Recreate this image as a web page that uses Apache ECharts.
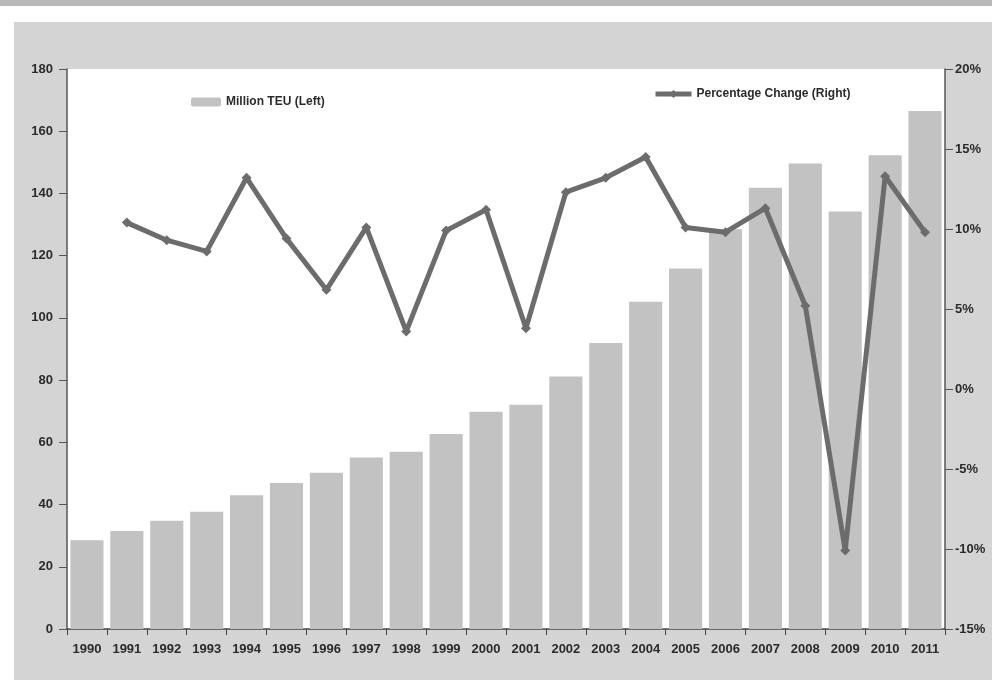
<!DOCTYPE html>
<html>
<head>
<meta charset="utf-8">
<script src="https://cdn.jsdelivr.net/npm/echarts@6/dist/echarts.min.js"></script>
<style>
  html, body { margin: 0; padding: 0; background: #ffffff; }
  #chart { width: 992px; height: 685px; }
</style>
</head>
<body>
<div id="chart"></div>
<script>
// 年份
var years = ['1990', '1991', '1992', '1993', '1994', '1995', '1996', '1997', '1998', '1999', '2000',
  '2001', '2002', '2003', '2004', '2005', '2006', '2007', '2008', '2009', '2010', '2011']
// 百万TEU（左轴）
var teu = [28.5, 31.5, 34.8, 37.7, 43.0, 46.9, 50.2, 55.1, 57.0, 62.7, 69.8,
  72.1, 81.2, 91.9, 105.2, 115.9, 128.5, 141.8, 149.6, 134.2, 152.3, 166.5]
// 百分比变化（右轴），1990 无数据
var pctChange = [null, 10.4, 9.3, 8.6, 13.2, 9.4, 6.2, 10.1, 3.6, 9.9, 11.2,
  3.8, 12.3, 13.2, 14.5, 10.1, 9.8, 11.3, 5.2, -10.1, 13.3, 9.8]

var font = "'Liberation Sans Narrow', 'Liberation Sans', Arial, sans-serif"
var chart = echarts.init(document.getElementById('chart'))

var option = {
  backgroundColor: '#ffffff',
  animation: false,
  textStyle: { fontFamily: font },
  graphic: [
    // 扫描页的灰色底纹
    { type: 'rect', z: -10, shape: { x: 14, y: 22, width: 978, height: 658 }, style: { fill: '#d4d4d4' } },
    { type: 'rect', z: -10, shape: { x: 0, y: 0, width: 992, height: 6 }, style: { fill: '#b8b8b8' } }
  ],
  legend: [
    {
      data: ['Million TEU (Left)'],
      left: 186,
      top: 91,
      itemWidth: 30,
      itemHeight: 9,
      textStyle: { fontSize: 12, fontWeight: 'bold', color: '#2b2b2b', fontFamily: font }
    },
    {
      data: ['Percentage Change (Right)'],
      left: 648,
      top: 83,
      itemWidth: 36,
      itemHeight: 10,
      itemGap: 2,
      lineStyle: { width: 5 },
      textStyle: { fontSize: 12, fontWeight: 'bold', color: '#2b2b2b', fontFamily: font }
    }
  ],
  grid: {
    left: 67,
    right: 47,
    top: 69,
    bottom: 56,
    show: true,
    backgroundColor: '#ffffff',
    borderWidth: 0
  },
  xAxis: {
    type: 'category',
    data: years,
    axisLine: { lineStyle: { color: '#444444', width: 1.5 } },
    axisTick: { show: true, length: 6, lineStyle: { color: '#444444' } },
    axisLabel: { color: '#2b2b2b', fontSize: 13, fontWeight: 'bold', margin: 14, interval: 0 }
  },
  yAxis: [
    {
      type: 'value',
      min: 0,
      max: 180,
      interval: 20,
      axisLine: { show: true, lineStyle: { color: '#555555', width: 1.5 } },
      axisTick: { show: true, length: 8, lineStyle: { color: '#555555' } },
      axisLabel: { color: '#2b2b2b', fontSize: 13, fontWeight: 'bold', margin: 14 },
      splitLine: { show: false }
    },
    {
      type: 'value',
      min: -15,
      max: 20,
      interval: 5,
      position: 'right',
      axisLine: { show: true, lineStyle: { color: '#555555', width: 1.5 } },
      axisTick: { show: true, length: 8, lineStyle: { color: '#555555' } },
      axisLabel: { color: '#2b2b2b', fontSize: 13, fontWeight: 'bold', margin: 10, formatter: '{value}%' },
      splitLine: { show: false }
    }
  ],
  series: [
    {
      name: 'Million TEU (Left)',
      type: 'bar',
      data: teu,
      yAxisIndex: 0,
      barCategoryGap: '17%',
      itemStyle: { color: '#c2c2c2' }
    },
    {
      name: 'Percentage Change (Right)',
      type: 'line',
      data: pctChange,
      yAxisIndex: 1,
      symbol: 'diamond',
      symbolSize: 10,
      lineStyle: { color: '#6c6c6c', width: 5 },
      itemStyle: { color: '#6c6c6c' },
      z: 5
    }
  ]
}

chart.setOption(option)
</script>
</body>
</html>
